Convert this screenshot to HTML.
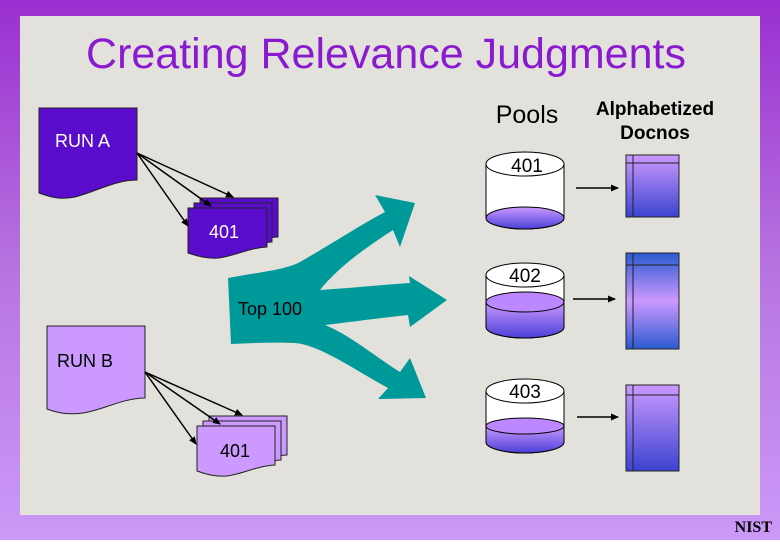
<!DOCTYPE html>
<html><head><style>
body{margin:0;width:780px;height:540px;overflow:hidden;font-family:"Liberation Sans",sans-serif;}
</style></head><body>
<svg width="780" height="540" viewBox="0 0 780 540" xmlns="http://www.w3.org/2000/svg">
<defs>
<linearGradient id="frame" x1="0" y1="0" x2="0" y2="1">
<stop offset="0" stop-color="#9a2fd0"/><stop offset="0.5" stop-color="#b774e0"/><stop offset="1" stop-color="#cc99f8"/></linearGradient>
<linearGradient id="liq" x1="0" y1="0" x2="0" y2="1">
<stop offset="0" stop-color="#cc99ff"/><stop offset="1" stop-color="#4b3fd8"/></linearGradient>
<linearGradient id="doc1" x1="0" y1="0" x2="0" y2="1">
<stop offset="0" stop-color="#cc99ff"/><stop offset="1" stop-color="#3a44d0"/></linearGradient>
<linearGradient id="doc2" x1="0" y1="0" x2="0" y2="1">
<stop offset="0" stop-color="#2a5ad0"/><stop offset="0.5" stop-color="#cc99ff"/><stop offset="1" stop-color="#2a5ad0"/></linearGradient>
<marker id="ah" markerWidth="8" markerHeight="8" refX="7" refY="4" orient="auto" markerUnits="userSpaceOnUse"><path d="M0,0.5 L8,4 L0,7.5z" fill="#000"/></marker>
</defs>
<rect width="780" height="540" fill="url(#frame)"/>
<rect x="20" y="16" width="740" height="499" fill="#e3e1dc"/>
<text x="386" y="68" text-anchor="middle" font-size="43" fill="#8a1ad0">Creating Relevance Judgments</text>
<text x="527" y="123" text-anchor="middle" font-size="25" fill="#000">Pools</text>
<text x="655" y="115" text-anchor="middle" font-size="19" font-weight="bold" fill="#000">Alphabetized</text>
<text x="655" y="139" text-anchor="middle" font-size="19" font-weight="bold" fill="#000">Docnos</text>

<!-- RUN A -->
<path d="M39,108 H137 V180 C115,180 95,192 75,197 C60,200 50,197 39,193 Z" fill="#5a0ccc" stroke="#222"/>
<text x="55" y="147" font-size="18" fill="#fff">RUN A</text>
<g fill="#5a0ccc" stroke="#222">
<path d="M200,198 H278 V237 C260,238 245,246 230,248 C218,249 208,246 200,243Z"/>
<path d="M194,203 H272 V242 C254,243 239,251 224,253 C212,254 202,251 194,248Z"/>
<path d="M188,208 H267 V247 C249,248 234,256 219,258 C207,259 197,256 188,253Z"/>
</g>
<text x="224" y="238" text-anchor="middle" font-size="18" fill="#fff">401</text>
<g stroke="#000" stroke-width="1.5" marker-end="url(#ah)">
<line x1="137" y1="153" x2="233" y2="197"/>
<line x1="137" y1="153" x2="211" y2="206"/>
<line x1="137" y1="153" x2="188" y2="226"/>
</g>

<!-- RUN B -->
<path d="M47,326 H145 V398 C123,398 103,410 83,413 C68,415 58,413 47,409 Z" fill="#cc99ff" stroke="#222"/>
<text x="57" y="367" font-size="18" fill="#000">RUN B</text>
<g fill="#cc99ff" stroke="#222">
<path d="M209,416 H287 V455 C269,456 254,464 239,466 C227,467 217,464 209,461Z"/>
<path d="M203,421 H281 V460 C263,461 248,469 233,471 C221,472 211,469 203,466Z"/>
<path d="M197,426 H275 V465 C257,466 242,474 227,476 C215,477 205,474 197,471Z"/>
</g>
<text x="235" y="457" text-anchor="middle" font-size="18" fill="#000">401</text>
<g stroke="#000" stroke-width="1.5" marker-end="url(#ah)">
<line x1="145" y1="372" x2="242" y2="415"/>
<line x1="145" y1="372" x2="220" y2="424"/>
<line x1="145" y1="372" x2="196" y2="444"/>
</g>

<!-- Teal arrow -->
<path d="M228,278 C260,272 285,270 300,262 C330,245 360,225 385,212 L375,195 L415,203 L400,247 L393,230 C370,245 340,265 320,290 C350,288 380,285 410,283 L409,276 L447,300 L410,327 L408,315 C380,318 350,322 325,325 C350,335 380,360 400,372 L410,358 L426,398 L378,399 L388,388 C355,370 320,345 295,343 C275,342 250,343 231,344 Z" fill="#009999"/>
<text x="238" y="315" font-size="18" fill="#000">Top 100</text>

<!-- Cylinders -->
<g stroke="#000" stroke-width="1">
<path d="M486,164 V218 A39,11 0 0 0 564,218 V164" fill="#fff"/>
<ellipse cx="525" cy="218" rx="39" ry="11" fill="url(#liq)"/>
<ellipse cx="525" cy="164" rx="39" ry="12" fill="#fff"/>

<path d="M486,275 V327 A39,11 0 0 0 564,327 V275" fill="#fff"/>
<path d="M486,302 V327 A39,11 0 0 0 564,327 V302" fill="url(#liq)"/>
<ellipse cx="525" cy="302" rx="39" ry="10" fill="#bb88ff"/>
<ellipse cx="525" cy="275" rx="39" ry="12" fill="#fff"/>

<path d="M486,391 V442 A39,11 0 0 0 564,442 V391" fill="#fff"/>
<path d="M486,426 V442 A39,11 0 0 0 564,442 V426" fill="url(#liq)"/>
<ellipse cx="525" cy="426" rx="39" ry="8" fill="#bb88ff"/>
<ellipse cx="525" cy="391" rx="39" ry="12" fill="#fff"/>
</g>
<text x="527" y="172" text-anchor="middle" font-size="19" fill="#000">401</text>
<text x="525" y="282" text-anchor="middle" font-size="19" fill="#000">402</text>
<text x="525" y="398" text-anchor="middle" font-size="19" fill="#000">403</text>

<!-- arrows to docnos -->
<g stroke="#000" stroke-width="1.5" marker-end="url(#ah)">
<line x1="576" y1="188" x2="618" y2="188"/>
<line x1="573" y1="299" x2="615" y2="299"/>
<line x1="577" y1="417" x2="618" y2="417"/>
</g>

<!-- Docnos -->
<g stroke="#222" stroke-width="1">
<rect x="626" y="155" width="53" height="62" fill="url(#doc1)"/>
<line x1="626" y1="163" x2="679" y2="163"/><line x1="633" y1="155" x2="633" y2="217"/>
<rect x="626" y="253" width="53" height="96" fill="url(#doc2)"/>
<line x1="626" y1="265" x2="679" y2="265"/><line x1="633" y1="253" x2="633" y2="349"/>
<rect x="626" y="385" width="53" height="86" fill="url(#doc1)"/>
<line x1="626" y1="395" x2="679" y2="395"/><line x1="633" y1="385" x2="633" y2="471"/>
</g>

<text x="772" y="532" text-anchor="end" font-family="Liberation Serif,serif" font-weight="bold" font-size="16" fill="#000">NIST</text>
</svg>
</body></html>
